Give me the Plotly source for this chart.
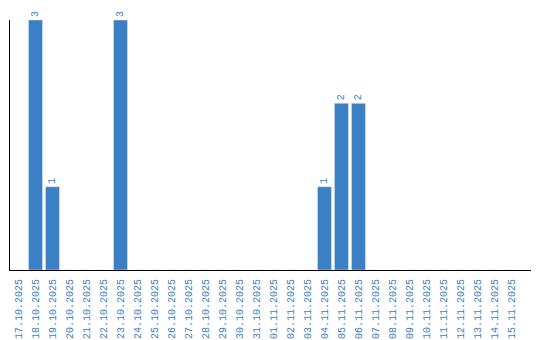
import plotly.graph_objects as go

dates = ["17.10.2025", "18.10.2025", "19.10.2025", "20.10.2025", "21.10.2025",
         "22.10.2025", "23.10.2025", "24.10.2025", "25.10.2025", "26.10.2025",
         "27.10.2025", "28.10.2025", "29.10.2025", "30.10.2025", "31.10.2025",
         "01.11.2025", "02.11.2025", "03.11.2025", "04.11.2025", "05.11.2025",
         "06.11.2025", "07.11.2025", "08.11.2025", "09.11.2025", "10.11.2025",
         "11.11.2025", "12.11.2025", "13.11.2025", "14.11.2025", "15.11.2025"]
counts = [0, 3, 1, 0, 0, 0, 3, 0, 0, 0,
          0, 0, 0, 0, 0, 0, 0, 0, 1, 2,
          2, 0, 0, 0, 0, 0, 0, 0, 0, 0]

labels = [str(v) if v > 0 else "" for v in counts]
blue = "#3b7fc4"
fnt = "Liberation Mono"

fig = go.Figure(go.Bar(
    x=dates, y=counts, marker_color=blue, text=labels,
    textposition="outside", textangle=-90,
    textfont=dict(family=fnt, size=10, color=blue),
    cliponaxis=False, hoverinfo="skip",
))
fig.update_layout(
    width=540, height=340,
    margin=dict(l=10, r=9, t=20, b=70),
    paper_bgcolor="white", plot_bgcolor="white",
    bargap=0.176, showlegend=False,
    font=dict(family=fnt, size=10, color=blue),
)
fig.update_xaxes(
    type="category", range=[-0.5, 30.15], tickangle=-90, automargin=False,
    showline=True, linecolor="black", linewidth=1, showgrid=False,
    ticks="", ticklabelstandoff=4,
    tickfont=dict(family=fnt, size=10, color=blue),
)
fig.update_yaxes(
    range=[0, 3], showline=True, linecolor="black", linewidth=1,
    showgrid=False, zeroline=False, showticklabels=False, ticks="",
    automargin=False,
)
fig.write_html("out.html")
